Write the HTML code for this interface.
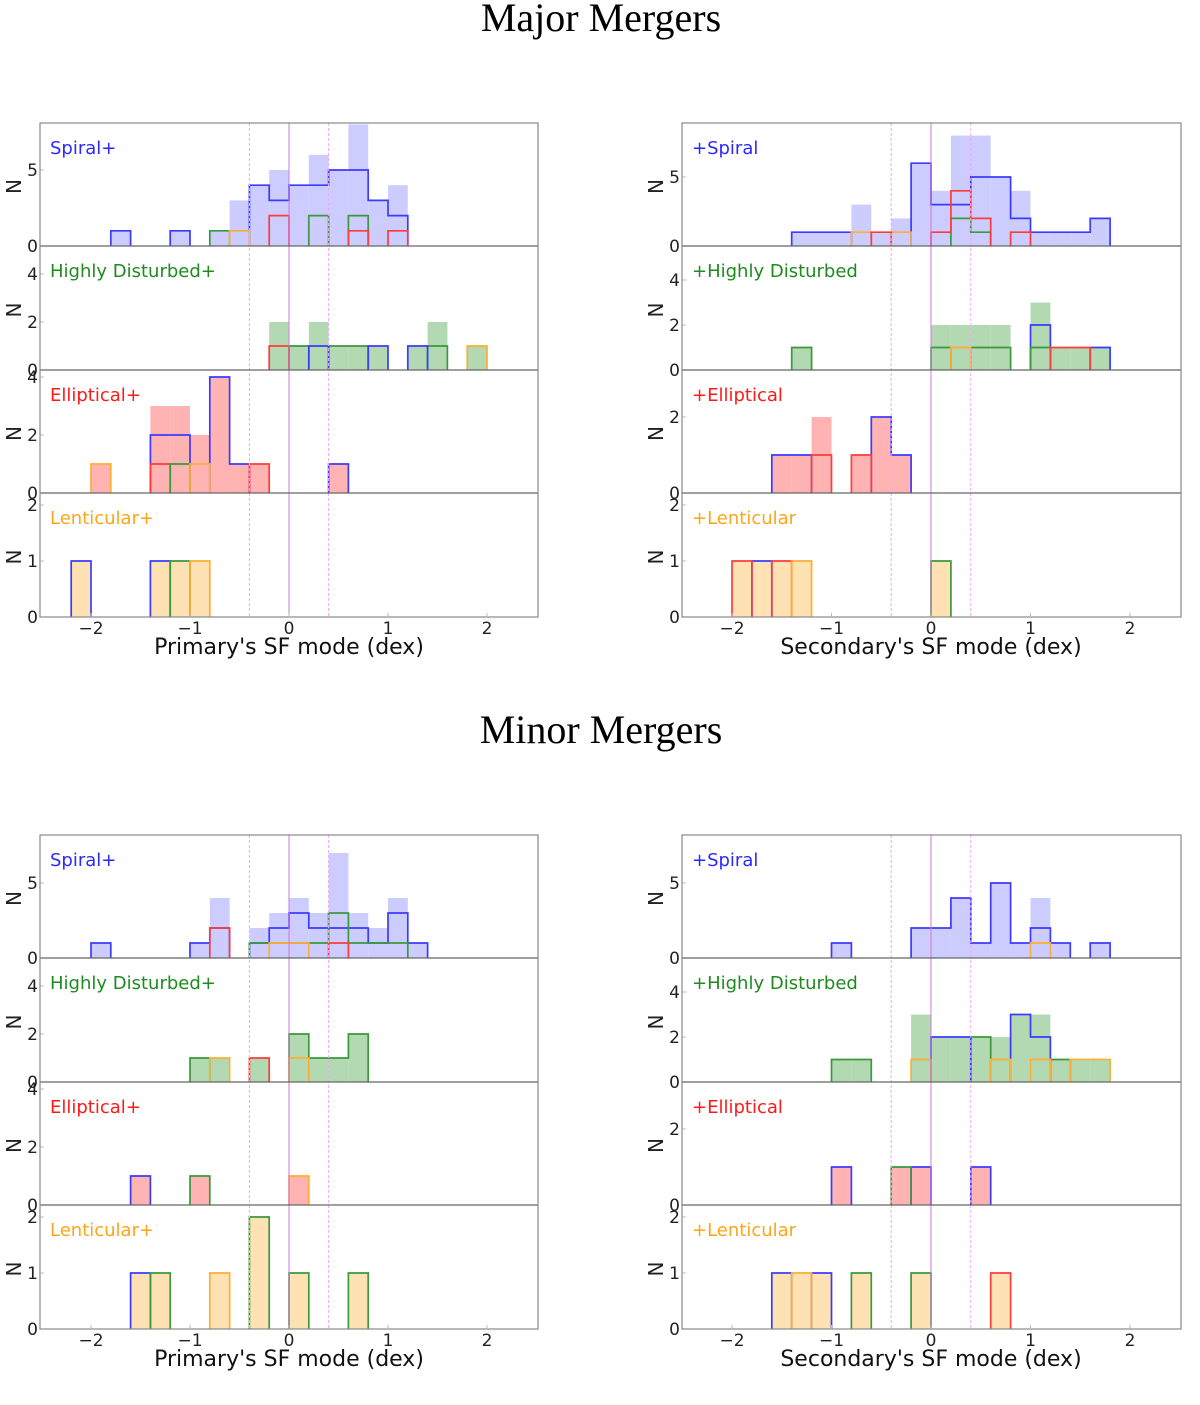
<!DOCTYPE html>
<html><head><meta charset="utf-8">
<style>
html,body{margin:0;padding:0;background:#fff;}
body{width:1200px;height:1400px;overflow:hidden;position:relative;}
svg text{font-family:"DejaVu Sans","Liberation Sans",sans-serif;}
.title{font-family:"Liberation Serif",serif;font-size:40px;}
</style></head>
<body>
<svg id="fig" width="1200" height="1400" viewBox="0 0 1200 1400" xmlns="http://www.w3.org/2000/svg">
<text class="title" x="601" y="31" text-anchor="middle">Major Mergers</text>
<text class="title" x="601" y="743" text-anchor="middle">Minor Mergers</text>
</svg>
<script>
// ---- data: [binStart, count] pairs, bin width 0.2 dex ----
const xTicks = [-2, -1, 0, 1, 2];
const xTickLabels = ["\u22122", "\u22121", "0", "1", "2"];
const refLines = [-0.4, 0, 0.4];
const rowNamesPrimary = ["Spiral+", "Highly Disturbed+", "Elliptical+", "Lenticular+"];
const rowNamesSecondary = ["+Spiral", "+Highly Disturbed", "+Elliptical", "+Lenticular"];

// Major, primary
const majP_S_fill = [[-1.8,1],[-1.2,1],[-0.8,1],[-0.6,3],[-0.4,4],[-0.2,5],[0,4],[0.2,6],[0.4,5],[0.6,8],[0.8,3],[1.0,4]];
const majP_S_blue = [[-1.8,1],[-1.2,1],[-0.4,4],[-0.2,3],[0,4],[0.2,4],[0.4,5],[0.6,5],[0.8,3],[1.0,2]];
const majP_S_green = [[-0.8,1],[0.2,2],[0.6,2]];
const majP_S_orange = [[-0.6,1]];
const majP_S_red = [[-0.2,2],[0.6,1],[1.0,1]];
const majP_H_fill = [[-0.2,2],[0,1],[0.2,2],[0.4,1],[0.6,1],[0.8,1],[1.2,1],[1.4,2],[1.8,1]];
const majP_H_red = [[-0.2,1]];
const majP_H_green = [[0,1],[0.4,1],[0.6,1],[1.4,1]];
const majP_H_blue = [[0.2,1],[0.8,1],[1.2,1]];
const majP_H_orange = [[1.8,1]];
const majP_E_fill = [[-2.0,1],[-1.4,3],[-1.2,3],[-1.0,2],[-0.8,4],[-0.6,1],[-0.4,1],[0.4,1]];
const majP_E_blue = [[-1.4,2],[-1.2,2],[-0.8,4],[-0.6,1],[0.4,1]];
const majP_E_orange = [[-2.0,1],[-1.0,1]];
const majP_E_red = [[-1.4,1],[-0.4,1]];
const majP_E_green = [[-1.2,1]];
const majP_L_fill = [[-2.2,1],[-1.4,1],[-1.2,1],[-1.0,1]];
const majP_L_blue = [[-2.2,1],[-1.4,1]];
const majP_L_green = [[-1.2,1]];
const majP_L_orange = [[-1.0,1]];
// Major, secondary
const majS_S_fill = [[-1.4,1],[-1.2,1],[-1.0,1],[-0.8,3],[-0.6,1],[-0.4,2],[-0.2,6],[0,4],[0.2,8],[0.4,8],[0.6,5],[0.8,4],[1.0,1],[1.2,1],[1.4,1],[1.6,2]];
const majS_S_blue = [[-1.4,1],[-1.2,1],[-1.0,1],[-0.2,6],[0,3],[0.2,3],[0.4,5],[0.6,5],[0.8,2],[1.0,1],[1.2,1],[1.4,1],[1.6,2]];
const majS_S_orange = [[-0.8,1],[-0.4,1]];
const majS_S_red = [[-0.6,1],[0,1],[0.2,4],[0.4,2],[0.8,1]];
const majS_S_green = [[0.2,2],[0.4,1]];
const majS_H_fill = [[-1.4,1],[0,2],[0.2,2],[0.4,2],[0.6,2],[1.0,3],[1.2,1],[1.4,1],[1.6,1]];
const majS_H_blue = [[1.0,2],[1.6,1]];
const majS_H_green = [[-1.4,1],[0,1],[0.4,1],[0.6,1],[1.0,1]];
const majS_H_orange = [[0.2,1]];
const majS_H_red = [[1.2,1],[1.4,1]];
const majS_E_fill = [[-1.6,1],[-1.4,1],[-1.2,2],[-0.8,1],[-0.6,2],[-0.4,1]];
const majS_E_blue = [[-1.6,1],[-1.4,1],[-0.6,2],[-0.4,1]];
const majS_E_red = [[-1.2,1],[-0.8,1]];
const majS_L_fill = [[-2.0,1],[-1.8,1],[-1.6,1],[-1.4,1],[0,1]];
const majS_L_blue = [[-1.8,1]];
const majS_L_red = [[-2.0,1],[-1.6,1]];
const majS_L_orange = [[-1.4,1]];
const majS_L_green = [[0,1]];
// Minor, primary
const minP_S_fill = [[-2.0,1],[-1.0,1],[-0.8,4],[-0.4,2],[-0.2,3],[0,4],[0.2,3],[0.4,7],[0.6,3],[0.8,2],[1.0,4],[1.2,1]];
const minP_S_blue = [[-2.0,1],[-1.0,1],[-0.8,2],[-0.4,1],[-0.2,2],[0,3],[0.2,2],[0.4,2],[0.6,2],[0.8,1],[1.0,3],[1.2,1]];
const minP_S_green = [[-0.4,1],[-0.2,1],[0,1],[0.2,1],[0.4,3],[0.6,1],[0.8,1],[1.0,1]];
const minP_S_orange = [[-0.2,1],[0,1]];
const minP_S_red = [[-0.8,2],[0.4,1]];
const minP_H_fill = [[-1.0,1],[-0.8,1],[-0.4,1],[0,2],[0.2,1],[0.4,1],[0.6,2]];
const minP_H_green = [[-1.0,1],[0,2],[0.2,1],[0.4,1],[0.6,2]];
const minP_H_orange = [[-0.8,1],[0,1]];
const minP_H_red = [[-0.4,1]];
const minP_E_fill = [[-1.6,1],[-1.0,1],[0,1]];
const minP_E_blue = [[-1.6,1]];
const minP_E_green = [[-1.0,1]];
const minP_E_orange = [[0,1]];
const minP_L_fill = [[-1.6,1],[-1.4,1],[-0.8,1],[-0.4,2],[0,1],[0.6,1]];
const minP_L_blue = [[-1.6,1]];
const minP_L_green = [[-1.4,1],[-0.4,2],[0,1],[0.6,1]];
const minP_L_orange = [[-0.8,1]];
// Minor, secondary
const minS_S_fill = [[-1.0,1],[-0.2,2],[0,2],[0.2,4],[0.4,1],[0.6,5],[0.8,1],[1.0,4],[1.2,1],[1.6,1]];
const minS_S_blue = [[-1.0,1],[-0.2,2],[0,2],[0.2,4],[0.4,1],[0.6,5],[0.8,1],[1.0,2],[1.2,1],[1.6,1]];
const minS_S_orange = [[1.0,1]];
const minS_H_fill = [[-1.0,1],[-0.8,1],[-0.2,3],[0,2],[0.2,2],[0.4,2],[0.6,2],[0.8,3],[1.0,3],[1.2,1],[1.4,1],[1.6,1]];
const minS_H_green = [[-1.0,1],[-0.8,1],[0.4,2],[1.2,1]];
const minS_H_blue = [[0,2],[0.2,2],[0.8,3],[1.0,2]];
const minS_H_orange = [[-0.2,1],[0.6,1],[1.0,1],[1.4,1],[1.6,1]];
const minS_E_fill = [[-1.0,1],[-0.4,1],[-0.2,1],[0.4,1]];
const minS_E_blue = [[-1.0,1],[-0.2,1],[0.4,1]];
const minS_E_green = [[-0.4,1]];
const minS_L_fill = [[-1.6,1],[-1.4,1],[-1.2,1],[-0.8,1],[-0.2,1],[0.6,1]];
const minS_L_blue = [[-1.6,1],[-1.2,1]];
const minS_L_orange = [[-1.4,1]];
const minS_L_green = [[-0.8,1],[-0.2,1]];
const minS_L_red = [[0.6,1]];

// y tick values per row
const yTicksP = [[0,5],[0,2,4],[0,2,4],[0,1,2]];
const yTicksS = [[0,5],[0,2,4],[0,2],[0,1,2]];

// ---- styling / layout ----
const NS = "http://www.w3.org/2000/svg";
const svg = document.getElementById("fig");
const FILL = {blue:"#ccccff", green:"#b3d9b3", red:"#ffb3b3", orange:"#ffe2b3"};
const LINE = {blue:"#3b3bff", green:"#3a993a", red:"#ff3b3b", orange:"#ffad33"};
const rowColor = ["blue","green","red","orange"];
const TEXTC = {blue:"#2a2aff", green:"#1f8a1f", red:"#ff1a1a", orange:"#ffa51a"};
const BW = 0.2;

function mk(tag, attrs, parent){
  const e = document.createElementNS(NS, tag);
  for (const k in attrs) e.setAttribute(k, attrs[k]);
  (parent||svg).appendChild(e);
  return e;
}

function drawColumn(cfg){
  const g = mk("g", {});
  
  
  const x0 = cfg.left, x1 = cfg.right;
  const xs = v => cfg.zeroX + v * cfg.unit;
  const rowsTop = cfg.rows;
  for (let r = 0; r < 4; r++){
    const top = rowsTop[r], base = rowsTop[r+1];
    const ppc = cfg.ppc[r];
    const ys = c => base - c * ppc;
    const pg = mk("g", {}, g);
    
    
    cfg.data[r].fill.forEach(([b,c]) => {
      const rect = mk("rect", {x: xs(b), y: ys(c), width: xs(b+BW)-xs(b), height: c*ppc, fill: FILL[rowColor[r]]}, pg);
      
      
    });
    cfg.data[r].layers.forEach(([col, arr]) => {
      const sorted = arr.slice().sort((a,b)=>a[0]-b[0]);
      let runs = [], cur = [];
      sorted.forEach(p => {
        if (cur.length && Math.abs(p[0] - (cur[cur.length-1][0] + BW)) > 1e-6){ runs.push(cur); cur = []; }
        cur.push(p);
      });
      if (cur.length) runs.push(cur);
      runs.forEach(run => {
        let d = "M" + xs(run[0][0]) + " " + base;
        run.forEach(([b,c]) => { d += " L" + xs(b) + " " + ys(c) + " L" + xs(b+BW) + " " + ys(c); });
        d += " L" + xs(run[run.length-1][0]+BW) + " " + base;
        const p = mk("path", {d: d, fill: "none", stroke: LINE[col], "stroke-width": 1.7}, pg);
        
        
      });
    });
    const t = mk("text", {x: x0 + 10, y: top + 31, "font-size": 18, fill: TEXTC[rowColor[r]]}, pg);
    t.textContent = cfg.labels[r];
    
    
    cfg.yticks[r].forEach(v => {
      const yy = ys(v);
      mk("line", {x1: x0, x2: x0+4, y1: yy, y2: yy, stroke: "#bbb", "stroke-width": 1}, pg);
      const tt = mk("text", {x: x0 - 2, y: yy + 6, "font-size": 17, "text-anchor": "end", fill: "#222"}, pg);
      tt.textContent = String(v);
      
      
    });
    const nl = mk("text", {x: 0, y: 0, "font-size": 20, "text-anchor": "middle", fill: "#222",
      transform: "translate(" + (x0 - 19) + "," + ((top+base)/2 + 2) + ") rotate(-90)"}, pg);
    nl.textContent = "N";
    
    
  }
  refLines.forEach(v => {
    const l = mk("line", {x1: xs(v), x2: xs(v), y1: rowsTop[0], y2: rowsTop[4], stroke: v===0 ? "#cc77dd" : "#eea8f4", "stroke-width": 1, "stroke-dasharray": v===0 ? "" : "3,2"}, g);
    
    
  });
  for (let r = 1; r < 4; r++) mk("line", {x1: x0, x2: x1, y1: rowsTop[r], y2: rowsTop[r], stroke: "#666", "stroke-width": 1.2}, g);
  const fr = mk("rect", {x: x0, y: rowsTop[0], width: x1-x0, height: rowsTop[4]-rowsTop[0], fill: "none", stroke: "#888", "stroke-width": 1.2}, g);
  
  
  xTicks.forEach((v,i) => {
    mk("line", {x1: xs(v), x2: xs(v), y1: rowsTop[4], y2: rowsTop[4]-4, stroke: "#bbb"}, g);
    const tt = mk("text", {x: xs(v), y: rowsTop[4] + 17, "font-size": 17, "text-anchor": "middle", fill: "#222"}, g);
    tt.textContent = xTickLabels[i];
    
    
  });
  const xl = mk("text", {x: cfg.zeroX, y: rowsTop[4] + 37, "font-size": 22, "text-anchor": "middle", fill: "#111"}, g);
  xl.textContent = cfg.xlabel;
  
  
}

const majRows = [123, 246, 370, 493, 617];
const minRows = [835, 958, 1082, 1205, 1329];

drawColumn({name:"major-primary-chart", prefix:"major-primary", left:40, right:538, zeroX:289, unit:99, rows:majRows,
  ppc:[15.2,24,29,56], labels:rowNamesPrimary, yticks:yTicksP, xlabel:"Primary's SF mode (dex)",
  data:[
    {fill:majP_S_fill, layers:[["blue",majP_S_blue],["green",majP_S_green],["orange",majP_S_orange],["red",majP_S_red]]},
    {fill:majP_H_fill, layers:[["green",majP_H_green],["blue",majP_H_blue],["red",majP_H_red],["orange",majP_H_orange]]},
    {fill:majP_E_fill, layers:[["blue",majP_E_blue],["red",majP_E_red],["green",majP_E_green],["orange",majP_E_orange]]},
    {fill:majP_L_fill, layers:[["blue",majP_L_blue],["green",majP_L_green],["orange",majP_L_orange]]}
  ]});
drawColumn({name:"major-secondary-chart", prefix:"major-secondary", left:682, right:1181, zeroX:931, unit:99.5, rows:majRows,
  ppc:[13.8,22.5,38,56], labels:rowNamesSecondary, yticks:yTicksS, xlabel:"Secondary's SF mode (dex)",
  data:[
    {fill:majS_S_fill, layers:[["blue",majS_S_blue],["orange",majS_S_orange],["green",majS_S_green],["red",majS_S_red]]},
    {fill:majS_H_fill, layers:[["blue",majS_H_blue],["green",majS_H_green],["orange",majS_H_orange],["red",majS_H_red]]},
    {fill:majS_E_fill, layers:[["blue",majS_E_blue],["red",majS_E_red]]},
    {fill:majS_L_fill, layers:[["blue",majS_L_blue],["red",majS_L_red],["orange",majS_L_orange],["green",majS_L_green]]}
  ]});
drawColumn({name:"minor-primary-chart", prefix:"minor-primary", left:40, right:538, zeroX:289, unit:99, rows:minRows,
  ppc:[15,24,29,56], labels:rowNamesPrimary, yticks:yTicksP, xlabel:"Primary's SF mode (dex)",
  data:[
    {fill:minP_S_fill, layers:[["blue",minP_S_blue],["green",minP_S_green],["orange",minP_S_orange],["red",minP_S_red]]},
    {fill:minP_H_fill, layers:[["green",minP_H_green],["orange",minP_H_orange],["red",minP_H_red]]},
    {fill:minP_E_fill, layers:[["blue",minP_E_blue],["green",minP_E_green],["orange",minP_E_orange]]},
    {fill:minP_L_fill, layers:[["blue",minP_L_blue],["green",minP_L_green],["orange",minP_L_orange]]}
  ]});
drawColumn({name:"minor-secondary-chart", prefix:"minor-secondary", left:682, right:1181, zeroX:931, unit:99.5, rows:minRows,
  ppc:[15,22.5,38,56], labels:rowNamesSecondary, yticks:yTicksS, xlabel:"Secondary's SF mode (dex)",
  data:[
    {fill:minS_S_fill, layers:[["blue",minS_S_blue],["orange",minS_S_orange]]},
    {fill:minS_H_fill, layers:[["green",minS_H_green],["blue",minS_H_blue],["orange",minS_H_orange]]},
    {fill:minS_E_fill, layers:[["blue",minS_E_blue],["green",minS_E_green]]},
    {fill:minS_L_fill, layers:[["blue",minS_L_blue],["orange",minS_L_orange],["green",minS_L_green],["red",minS_L_red]]}
  ]});
</script>
</body></html>
